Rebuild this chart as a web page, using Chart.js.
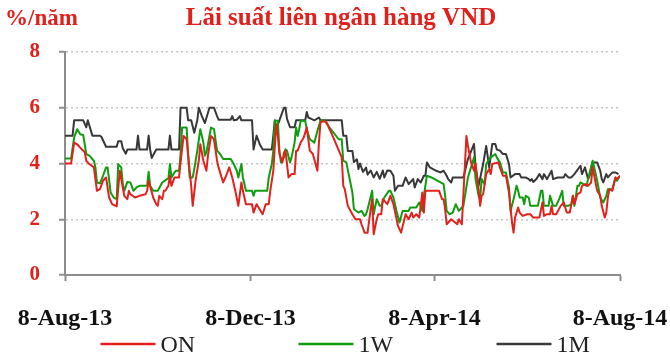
<!DOCTYPE html>
<html>
<head>
<meta charset="utf-8">
<script src="https://cdn.jsdelivr.net/npm/chart.js@4"></script>
<style>
  html, body { margin: 0; padding: 0; background: #fff; }
  #wrap { width: 670px; height: 359px; }
</style>
</head>
<body>
<div id="wrap"><canvas id="rateChart"></canvas></div>
<script>
// Interbank VND rates, day offsets counted from 8-Aug-13
const chartTitle = 'Lãi suất liên ngân hàng VND';
const unitLabel = '%/năm';
const seriesNames = ['ON', '1W', '1M'];
const tickDays = [0, 122, 243, 365];
const tickLabels = ['8-Aug-13', '8-Dec-13', '8-Apr-14', '8-Aug-14'];
const yTicks = [0, 2, 4, 6, 8];

const onDays = [0, 4, 6, 8, 10, 12, 13, 14, 16, 19, 20, 21, 23, 25, 27, 29, 31, 34, 36, 37, 39, 41, 42, 43, 46, 49, 53, 54, 55, 58, 60, 61, 62, 64, 65, 66, 68, 69, 70, 72, 75, 76, 78, 80, 81, 83, 84, 86, 88, 89, 91, 93, 94, 96, 98, 100, 101, 104, 106, 108, 110, 112, 114, 116, 117, 119, 123, 124, 126, 128, 130, 132, 134, 135, 137, 138, 139, 140, 141, 143, 144, 145, 147, 149, 151, 152, 153, 155, 157, 159, 161, 163, 166, 167, 168, 170, 172, 176, 182, 183, 184, 186, 189, 191, 194, 195, 197, 199, 201, 202, 203, 205, 206, 208, 209, 212, 214, 216, 219, 221, 224, 226, 228, 229, 231, 233, 235, 236, 237, 246, 248, 249, 250, 251, 254, 258, 259, 261, 264, 265, 267, 269, 270, 272, 273, 274, 275, 277, 279, 280, 281, 285, 286, 288, 290, 292, 294, 295, 296, 298, 299, 301, 304, 306, 308, 312, 314, 315, 317, 319, 320, 321, 323, 326, 328, 330, 332, 334, 335, 337, 339, 340, 342, 344, 346, 347, 350, 352, 353, 355, 356, 357, 358, 360, 362, 363, 365];
const onRates = [4.0, 4.0, 4.75, 4.69, 4.57, 4.46, 4.4, 4.1, 3.98, 3.86, 3.44, 3.02, 3.08, 3.38, 3.5, 2.78, 2.54, 2.46, 3.74, 3.44, 2.84, 2.72, 3.02, 2.9, 2.78, 2.84, 2.9, 3.02, 3.38, 2.78, 2.54, 2.48, 2.84, 2.72, 3.02, 3.02, 3.2, 3.56, 3.2, 3.5, 3.5, 4.04, 4.99, 4.87, 4.28, 3.2, 2.48, 3.44, 4.1, 4.69, 4.1, 3.74, 4.28, 4.99, 4.87, 4.1, 3.86, 3.32, 3.56, 3.86, 3.5, 3.02, 2.48, 3.32, 3.02, 2.54, 2.54, 2.24, 2.54, 2.36, 2.18, 2.54, 2.54, 3.02, 3.74, 4.63, 5.41, 4.99, 4.34, 4.04, 4.4, 4.46, 3.5, 3.62, 3.62, 4.46, 4.46, 4.75, 4.93, 5.29, 4.46, 4.34, 3.74, 4.75, 5.47, 5.53, 5.47, 4.99, 4.22, 3.2, 3.08, 2.48, 2.18, 2.0, 2.0, 1.82, 1.52, 1.52, 2.36, 2.72, 1.46, 2.0, 2.18, 2.18, 2.72, 2.54, 2.84, 2.54, 1.76, 1.52, 2.18, 2.0, 2.24, 2.06, 2.18, 2.06, 2.96, 2.24, 3.02, 3.02, 2.72, 2.72, 2.36, 1.82, 2.0, 1.82, 2.0, 1.82, 4.99, 4.63, 4.04, 3.74, 3.98, 3.08, 2.48, 2.84, 2.9, 3.62, 3.8, 3.62, 3.98, 4.04, 3.86, 3.56, 3.56, 2.96, 1.88, 1.52, 2.06, 2.42, 2.24, 2.12, 2.18, 2.18, 2.06, 2.06, 2.6, 2.12, 2.18, 2.18, 2.48, 2.18, 2.18, 2.48, 2.6, 2.24, 2.24, 2.84, 2.54, 2.9, 2.96, 3.2, 3.26, 3.2, 3.32, 3.86, 3.02, 2.84, 2.48, 2.06, 2.24, 2.78, 3.08, 3.02, 3.5, 3.44, 3.56];

const wDays = [0, 4, 6, 8, 10, 12, 14, 16, 19, 20, 21, 23, 25, 27, 28, 30, 32, 34, 35, 37, 38, 39, 41, 43, 45, 47, 49, 54, 55, 56, 58, 61, 64, 67, 68, 69, 70, 72, 73, 75, 76, 77, 80, 81, 82, 84, 85, 87, 89, 91, 92, 93, 95, 96, 98, 100, 102, 104, 109, 111, 113, 114, 116, 117, 119, 123, 124, 125, 133, 134, 136, 137, 138, 140, 141, 142, 144, 145, 146, 148, 149, 151, 152, 153, 154, 155, 158, 159, 161, 164, 166, 168, 171, 174, 180, 182, 183, 185, 187, 189, 190, 193, 195, 197, 198, 199, 202, 203, 205, 207, 208, 210, 213, 214, 216, 218, 220, 222, 226, 227, 231, 233, 235, 236, 238, 241, 247, 249, 250, 251, 253, 255, 257, 259, 260, 262, 265, 269, 270, 272, 273, 274, 276, 277, 280, 283, 284, 286, 288, 290, 292, 293, 295, 297, 298, 299, 301, 302, 303, 305, 306, 311, 313, 314, 315, 318, 319, 321, 323, 325, 327, 328, 331, 333, 334, 335, 336, 337, 338, 339, 341, 343, 344, 347, 350, 352, 354, 356, 357, 360, 362, 363, 365];
const wRates = [4.18, 4.18, 4.93, 5.23, 5.05, 5.02, 4.34, 4.28, 4.1, 3.86, 3.32, 3.29, 3.56, 3.86, 3.86, 2.96, 2.78, 2.72, 3.98, 3.86, 3.26, 3.02, 3.34, 3.32, 3.02, 3.14, 3.2, 3.2, 3.7, 3.2, 3.02, 3.02, 3.32, 3.44, 3.46, 3.98, 3.5, 3.68, 3.74, 3.74, 4.34, 5.29, 5.29, 4.28, 3.5, 3.5, 3.8, 4.46, 5.23, 4.75, 4.28, 4.4, 4.99, 5.29, 5.23, 4.46, 4.34, 4.16, 4.16, 3.98, 3.74, 3.5, 3.98, 3.5, 3.02, 3.02, 2.84, 3.02, 3.02, 3.5, 3.98, 4.46, 5.53, 5.53, 4.46, 4.04, 4.22, 4.51, 4.46, 4.04, 4.22, 4.75, 5.29, 4.99, 5.23, 5.53, 5.53, 5.23, 4.87, 4.75, 5.17, 5.53, 5.53, 5.29, 4.87, 4.87, 4.1, 4.04, 3.5, 2.96, 2.36, 2.24, 2.3, 2.12, 2.18, 2.36, 3.02, 2.18, 2.72, 2.48, 2.48, 2.78, 3.02, 3.02, 2.78, 2.3, 1.88, 2.3, 2.3, 2.42, 2.42, 2.6, 2.3, 2.84, 3.56, 3.5, 3.32, 3.26, 2.84, 2.3, 2.18, 2.24, 2.54, 2.3, 2.36, 2.48, 3.5, 4.22, 3.44, 2.84, 2.72, 3.44, 3.26, 3.98, 4.22, 4.34, 4.22, 4.04, 3.68, 3.68, 3.14, 2.3, 2.72, 3.2, 3.02, 2.78, 2.78, 2.54, 2.84, 2.78, 2.48, 2.48, 3.02, 3.02, 2.48, 2.48, 2.84, 2.48, 2.48, 2.72, 3.02, 2.48, 2.48, 2.54, 2.84, 2.48, 2.84, 3.2, 3.2, 3.32, 3.26, 3.2, 3.44, 4.1, 3.38, 2.78, 2.6, 2.84, 3.08, 3.08, 3.5, 3.38, 3.56];

const mDays = [0, 5, 6, 12, 14, 15, 18, 23, 24, 27, 34, 35, 37, 38, 40, 41, 47, 48, 49, 54, 55, 56, 57, 60, 68, 69, 70, 75, 76, 80, 81, 83, 85, 87, 88, 90, 92, 95, 98, 100, 101, 109, 110, 111, 113, 115, 116, 123, 124, 126, 128, 130, 136, 137, 138, 139, 141, 144, 145, 146, 148, 151, 152, 158, 159, 160, 162, 164, 167, 168, 182, 183, 185, 186, 189, 190, 192, 193, 194, 196, 198, 199, 201, 203, 205, 207, 209, 210, 212, 214, 216, 217, 219, 222, 224, 226, 228, 229, 230, 232, 234, 236, 237, 238, 240, 242, 244, 247, 249, 251, 252, 254, 255, 262, 265, 269, 270, 272, 275, 277, 279, 281, 283, 284, 286, 288, 290, 292, 293, 296, 299, 300, 303, 305, 306, 307, 308, 310, 312, 314, 315, 317, 320, 321, 324, 328, 329, 331, 333, 335, 339, 340, 342, 344, 345, 347, 350, 352, 353, 354, 356, 357, 360, 362, 364];
const mRates = [5.0, 5.0, 5.55, 5.55, 5.3, 5.55, 5.0, 5.0, 4.95, 4.6, 4.6, 4.8, 4.8, 4.55, 4.35, 4.5, 4.5, 5.0, 4.5, 4.5, 5.0, 4.5, 4.2, 4.5, 4.5, 5.0, 4.5, 4.5, 6.0, 6.0, 5.55, 5.55, 5.1, 5.55, 6.0, 5.7, 5.45, 6.0, 6.0, 5.7, 5.57, 5.57, 5.7, 5.55, 5.57, 5.7, 5.55, 5.55, 4.5, 5.0, 4.7, 4.5, 4.5, 5.0, 5.55, 5.25, 5.55, 6.0, 6.0, 5.6, 5.3, 5.3, 5.55, 5.55, 5.85, 5.65, 5.6, 5.55, 5.65, 5.55, 5.55, 5.0, 5.0, 4.45, 4.45, 4.05, 4.15, 3.8, 4.0, 3.7, 3.85, 3.6, 3.75, 3.5, 3.7, 3.45, 3.75, 3.5, 3.75, 3.74, 3.56, 3.02, 3.2, 3.2, 3.5, 3.26, 3.38, 3.44, 3.14, 3.44, 3.32, 3.56, 3.56, 4.04, 3.86, 3.8, 3.74, 3.68, 3.74, 3.56, 3.44, 3.32, 3.5, 3.5, 4.16, 4.7, 3.86, 3.2, 3.98, 4.63, 3.86, 4.7, 4.7, 4.5, 4.46, 4.34, 4.34, 3.98, 3.5, 3.62, 3.62, 3.5, 3.5, 3.44, 3.38, 3.44, 3.34, 3.44, 3.62, 3.44, 3.62, 3.44, 3.74, 3.44, 3.5, 3.5, 3.62, 3.5, 3.5, 3.62, 3.92, 3.62, 3.86, 3.44, 3.56, 4.04, 4.04, 3.74, 3.44, 3.32, 3.62, 3.5, 3.68, 3.68, 3.62];

const RED = '#e0201b';
const AXIS = '#8c8c8c';
const SERIF = '"Liberation Serif", "Times New Roman", serif';

const toPoints = (days, rates) => days.map((d, i) => ({ x: d, y: rates[i] }));

// title and unit label above the plot
const headerText = {
  id: 'headerText',
  afterDraw(chart) {
    const ctx = chart.ctx;
    ctx.save();
    ctx.fillStyle = RED;
    ctx.textBaseline = 'middle';
    ctx.font = 'bold 23px ' + SERIF;
    ctx.textAlign = 'left';
    ctx.fillText(unitLabel, 5, 19);
    ctx.font = 'bold 25px ' + SERIF;
    ctx.textAlign = 'center';
    ctx.fillText(chartTitle, 341, 19);
    ctx.restore();
  }
};

// wide spaced legend with line samples under the axis labels
const lineLegend = {
  id: 'lineLegend',
  afterDraw(chart) {
    const { ctx, chartArea } = chart;
    const mid = (chartArea.left + chartArea.right) / 2;
    const y = chartArea.bottom + 69;
    ctx.save();
    ctx.font = '24px ' + SERIF;
    ctx.textBaseline = 'middle';
    ctx.textAlign = 'left';
    chart.data.datasets.forEach((ds, i) => {
      const x0 = mid - 242 + i * 198;
      ctx.strokeStyle = ds.borderColor;
      ctx.lineWidth = 2.5;
      ctx.beginPath();
      ctx.moveTo(x0, y);
      ctx.lineTo(x0 + 55, y);
      ctx.stroke();
      ctx.fillStyle = '#222';
      ctx.fillText(ds.label, x0 + 60, y + 2);
    });
    ctx.restore();
  }
};

new Chart(document.getElementById('rateChart'), {
  type: 'line',
  data: {
    datasets: [
      { label: seriesNames[0], data: toPoints(onDays, onRates), borderColor: '#e3211c' },
      { label: seriesNames[1], data: toPoints(wDays, wRates), borderColor: '#0f9d0f' },
      { label: seriesNames[2], data: toPoints(mDays, mRates), borderColor: '#383838' }
    ]
  },
  options: {
    responsive: true,
    maintainAspectRatio: false,
    animation: false,
    events: [],
    layout: { padding: { top: 52, right: 50, left: 0, bottom: 0 } },
    elements: {
      line: { borderWidth: 2, tension: 0, fill: false, borderJoinStyle: 'round' },
      point: { radius: 0 }
    },
    plugins: {
      legend: { display: false },
      tooltip: { enabled: false }
    },
    scales: {
      x: {
        type: 'linear',
        min: tickDays[0],
        max: tickDays[tickDays.length - 1],
        afterBuildTicks: s => { s.ticks = tickDays.map(v => ({ value: v })); },
        afterFit: s => {
          s.height = 84;
          s.paddingLeft = 0;
          s.paddingRight = 0;
        },
        ticks: {
          autoSkip: false,
          maxRotation: 0,
          padding: 23,
          color: '#111',
          font: { family: SERIF, size: 24, weight: 'bold' },
          callback: (v, i) => tickLabels[i]
        },
        grid: { drawOnChartArea: false, tickLength: 6, tickColor: AXIS, tickWidth: 2 },
        border: { color: AXIS, width: 2 }
      },
      y: {
        min: yTicks[0],
        max: yTicks[yTicks.length - 1],
        afterBuildTicks: s => { s.ticks = yTicks.map(v => ({ value: v })); },
        afterFit: s => { s.width = 65; },
        ticks: {
          padding: 19,
          color: RED,
          font: { family: SERIF, size: 21, weight: 'bold' }
        },
        grid: {
          color: c => (c.tick && c.tick.value === 0 ? 'rgba(0,0,0,0)' : '#c4c4c4'),
          lineWidth: 1.5,
          tickLength: 6,
          tickColor: AXIS,
          tickWidth: 2
        },
        border: { color: AXIS, width: 2, dash: [2, 3] }
      }
    }
  },
  plugins: [headerText, lineLegend]
});
</script>
</body>
</html>
